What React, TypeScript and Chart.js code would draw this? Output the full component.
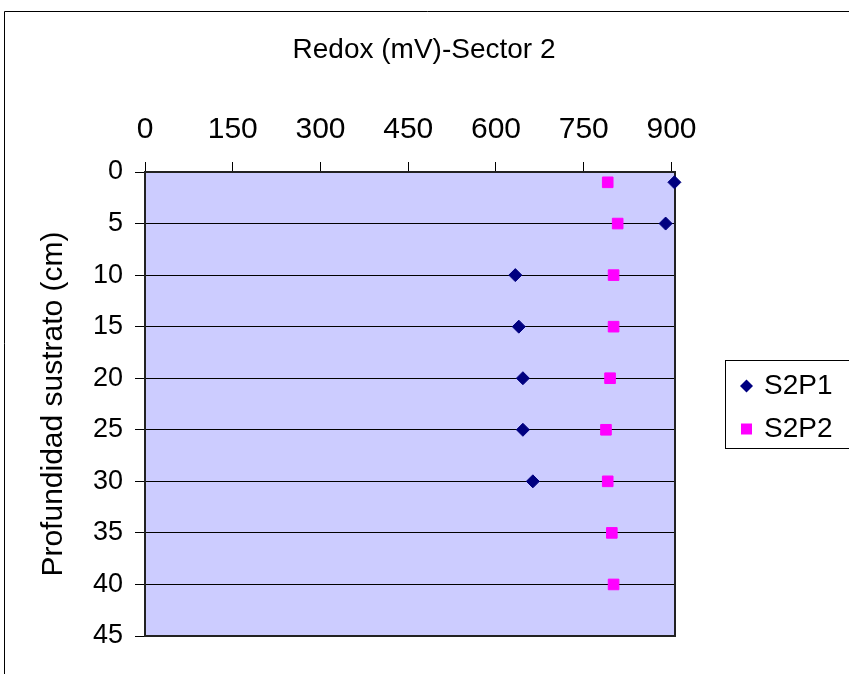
import React, { useEffect, useRef } from 'react';
import { Chart, registerables } from 'chart.js';

Chart.register(...registerables);

const chartTitle = 'Redox (mV)-Sector 2';
const yAxisTitle = 'Profundidad sustrato (cm)';
const xTickValues = [0, 150, 300, 450, 600, 750, 900];
const yTickValues = [0, 5, 10, 15, 20, 25, 30, 35, 40, 45];
const xMin = 0;
const xMax = 906;
const yMin = 0;
const yMax = 45;
const seriesNames = ['S2P1', 'S2P2'];
const s2p1Redox = [905, 890, 633, 639, 646, 646, 663];
const s2p1Depth = [1, 5, 10, 15, 20, 25, 30];
const s2p2Redox = [791, 808, 801, 801, 795, 788, 791, 798, 801];
const s2p2Depth = [1, 5, 10, 15, 20, 25, 30, 35, 40];

const FONT = '"Liberation Sans", Arial, sans-serif';

export default function App() {
  const canvasRef = useRef<HTMLCanvasElement | null>(null);

  useEffect(() => {
    const canvas = canvasRef.current;
    if (!canvas) return;

    const decor = {
      id: 'decor',
      beforeDraw(chart: any) {
        const { ctx, chartArea } = chart;
        ctx.save();
        ctx.fillStyle = '#CCCCFF';
        ctx.fillRect(chartArea.left, chartArea.top, chartArea.right - chartArea.left, chartArea.bottom - chartArea.top);
        ctx.restore();
      },
      beforeDatasetsDraw(chart: any) {
        const { ctx, chartArea } = chart;
        ctx.save();
        ctx.strokeStyle = '#222222';
        ctx.lineWidth = 2;
        ctx.strokeRect(chartArea.left, chartArea.top, chartArea.right - chartArea.left, chartArea.bottom - chartArea.top);
        ctx.restore();
      },
      afterDraw(chart: any) {
        const { ctx } = chart;
        ctx.save();
        // outer chart frame
        ctx.strokeStyle = '#000000';
        ctx.lineWidth = 1;
        ctx.beginPath();
        ctx.moveTo(4.5, chart.height + 2);
        ctx.lineTo(4.5, 11.5);
        ctx.lineTo(chart.width + 2, 11.5);
        ctx.stroke();

        // chart title
        ctx.fillStyle = '#000000';
        ctx.font = '28px ' + FONT;
        ctx.textAlign = 'center';
        ctx.textBaseline = 'alphabetic';
        ctx.fillText(chartTitle, 424, 58);

        // legend
        const lx = 725.5, ly = 360.5, lw = 140, lh = 88;
        ctx.strokeRect(lx, ly, lw, lh);
        const items = chart.data.datasets;
        const rowsY = [386, 429];
        items.forEach((ds: any, i: number) => {
          const y = rowsY[i];
          const x = 746.5;
          ctx.fillStyle = ds.backgroundColor;
          ctx.beginPath();
          if (ds.pointStyle === 'rectRot') {
            const r = 6.5;
            ctx.moveTo(x, y - r);
            ctx.lineTo(x + r, y);
            ctx.lineTo(x, y + r);
            ctx.lineTo(x - r, y);
            ctx.closePath();
          } else {
            ctx.rect(x - 5.5, y - 5.5, 11, 11);
          }
          ctx.fill();
          ctx.fillStyle = '#000000';
          ctx.font = '28px ' + FONT;
          ctx.textBaseline = 'middle';
          ctx.textAlign = 'left';
          ctx.fillText(ds.label, 764, y);
        });
        ctx.restore();
      },
    };

    const chart = new Chart(canvas, {
      type: 'scatter',
      data: {
        datasets: [
          {
            label: seriesNames[0],
            data: s2p1Redox.map((v, i) => ({ x: v, y: s2p1Depth[i] })),
            pointStyle: 'rectRot',
            pointRadius: 6.5,
            backgroundColor: '#000080',
            borderColor: '#000080',
            borderWidth: 1,
            clip: false,
          } as any,
          {
            label: seriesNames[1],
            data: s2p2Redox.map((v, i) => ({ x: v, y: s2p2Depth[i] })),
            pointStyle: 'rect',
            pointRadius: 7.5,
            backgroundColor: '#FF00FF',
            borderColor: '#FF00FF',
            borderWidth: 1,
            clip: false,
          } as any,
        ],
      },
      options: {
        animation: false,
        responsive: true,
        maintainAspectRatio: false,
        layout: { padding: { left: 0, right: 174, top: 0, bottom: 38 } },
        plugins: {
          legend: { display: false },
          tooltip: { enabled: false },
          title: { display: false },
        },
        scales: {
          x: {
            type: 'linear',
            position: 'top',
            min: xMin,
            max: xMax,
            afterBuildTicks: (scale: any) => {
              scale.ticks = xTickValues.map((v) => ({ value: v }));
            },
            afterFit: (scale: any) => {
              scale.height = 172;
            },
            grid: { drawOnChartArea: false, drawTicks: true, tickLength: 10, color: '#000000' },
            border: { display: false },
            ticks: {
              color: '#000000',
              font: { family: FONT, size: 30 },
              padding: 14,
              maxRotation: 0,
              autoSkip: false,
            },
          },
          y: {
            type: 'linear',
            reverse: true,
            min: yMin,
            max: yMax,
            afterBuildTicks: (scale: any) => {
              scale.ticks = yTickValues.map((v) => ({ value: v }));
            },
            afterFit: (scale: any) => {
              scale.width = 145;
            },
            grid: { drawOnChartArea: true, drawTicks: true, tickLength: 10, color: '#000000', lineWidth: 1 },
            border: { display: false },
            ticks: {
              color: '#000000',
              font: { family: FONT, size: 27 },
              padding: 12,
              autoSkip: false,
            },
            title: {
              display: true,
              text: yAxisTitle,
              color: '#000000',
              font: { family: FONT, size: 30 },
              padding: { top: 36, bottom: 0 },
            },
          },
        },
      },
      plugins: [decor],
    });

    return () => chart.destroy();
  }, []);

  return (
    <div style={{ position: 'fixed', left: 0, top: 0, width: 849, height: 674, background: '#ffffff' }}>
      <canvas ref={canvasRef} />
    </div>
  );
}
